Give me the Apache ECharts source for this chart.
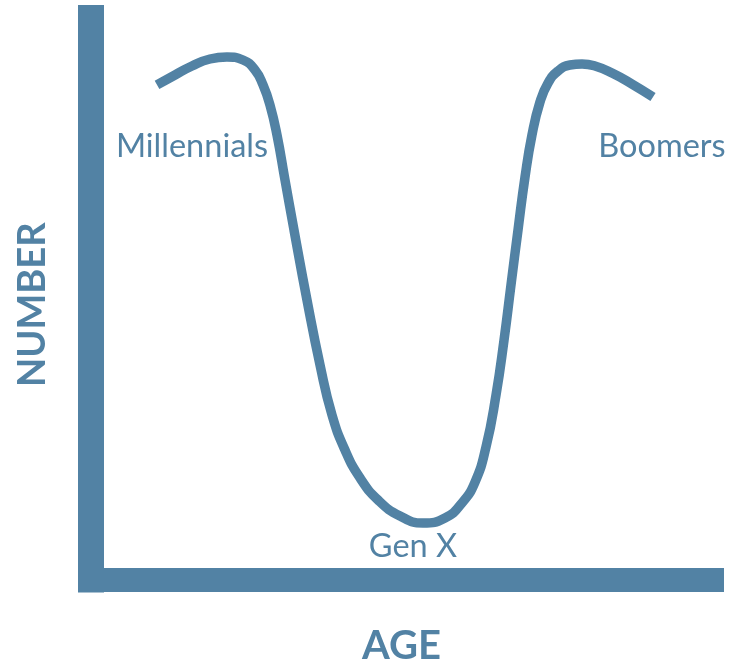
<!DOCTYPE html>
<html>
<head>
<meta charset="utf-8">
<script src="https://cdn.jsdelivr.net/npm/echarts@6/dist/echarts.min.js"></script>
<style>html,body{margin:0;padding:0;background:#fff;}#c{width:736px;height:662px;}</style>
</head>
<body>
<div id="c"></div>
<script>
// Curve (age on x, number on y, arbitrary 0-100 units)
var curveX = [10.63,13.53,16.26,19.16,21.90,24.48,26.41,27.70,28.82,29.95,31.24,32.69,34.78,36.88,38.81,40.90,43.32,46.22,49.76,53.46,57.00,59.74,61.84,63.61,65.22,66.51,67.63,68.76,69.89,71.01,72.30,73.59,75.20,77.13,79.07,81.16,83.90,87.12,90.50];
var curveY = [88.07,89.85,91.45,92.70,93.06,92.52,90.74,88.07,84.51,79.16,71.15,62.24,49.78,38.20,29.30,23.06,18.08,14.16,11.31,10.06,10.95,13.62,17.36,23.60,32.86,42.65,52.45,62.24,71.68,79.16,85.04,88.42,90.56,91.63,91.81,91.45,90.20,88.24,85.93];
// Generation labels
var labelNames = ['Millennials','Gen X','Boomers'];
var labelX = [16.26, 51.85, 91.95];
var labelY = [77.03, 5.79, 77.03];
var xName = 'AGE';
var yName = 'NUMBER';

var COLOR = '#5282a4';
var curveData = curveX.map(function(x,i){return [x, curveY[i]];});
var labelData = labelNames.map(function(n,i){return {name:n, value:[labelX[i], labelY[i]]};});

var chart = echarts.init(document.getElementById('c'), null, {renderer:'canvas'});
chart.setOption({
  animation:false,
  grid:{left:91, right:24, top:18, bottom:82.5, containLabel:false, outerBoundsMode:'none'},
  xAxis:{type:'value', min:0, max:100, name:xName, nameLocation:'middle', nameGap:47,
    nameTextStyle:{fontFamily:'Lato', fontWeight:'bold', fontSize:40, color:COLOR},
    axisLine:{show:true, onZero:false, lineStyle:{color:COLOR, width:24, cap:'square'}},
    axisTick:{show:false}, axisLabel:{show:false}, splitLine:{show:false}},
  yAxis:{type:'value', min:0, max:100, name:yName, nameLocation:'middle', nameGap:39,
    nameTextStyle:{fontFamily:'Lato', fontWeight:'bold', fontSize:38, color:COLOR, padding:[0,12,0,0]},
    axisLine:{show:true, onZero:false, lineStyle:{color:COLOR, width:26, cap:'square'}},
    axisTick:{show:false}, axisLabel:{show:false}, splitLine:{show:false}},
  series:[
    {type:'line', data:curveData, smooth:0.5, showSymbol:false, symbol:'none',
     lineStyle:{color:COLOR, width:9.5, cap:'butt'}},
    {type:'scatter', data:labelData, symbolSize:0, itemStyle:{opacity:1},
     label:{show:true, position:'inside', formatter:'{b}', fontFamily:'Lato', fontSize:32.5, color:COLOR}}
  ]
});
</script>
</body>
</html>
